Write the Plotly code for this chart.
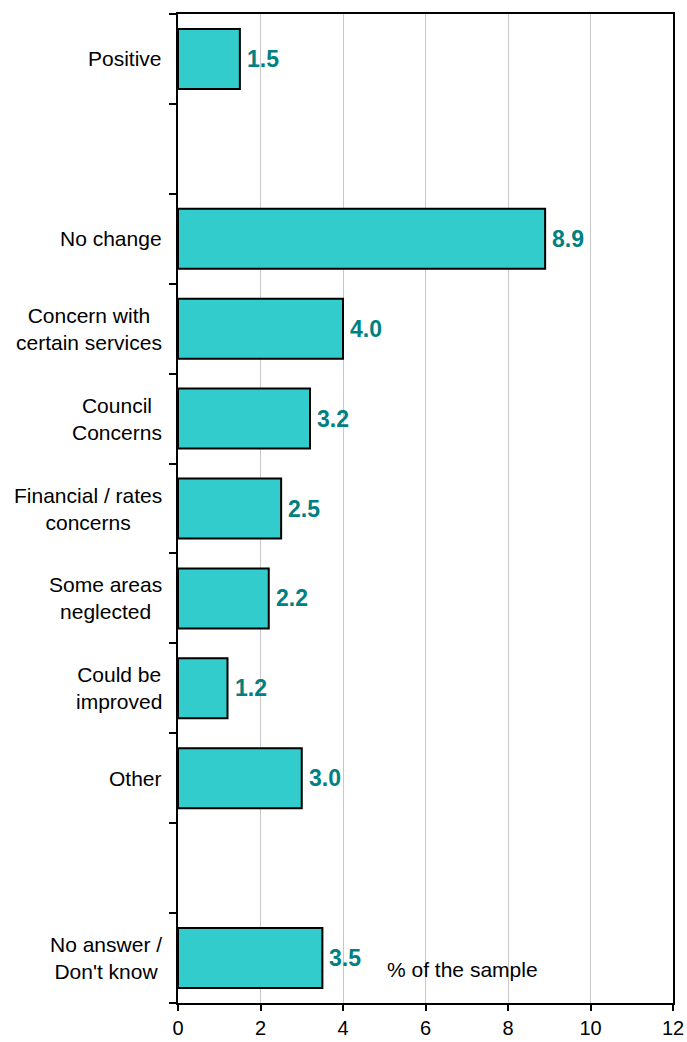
import plotly.graph_objects as go

# slot layout (None = empty spacer slot)
categories = ["Positive", None, "No change", "Concern with<br>certain services",
              "Council<br>Concerns", "Financial / rates<br>concerns",
              "Some areas<br>neglected", "Could be<br>improved", "Other", None,
              "No answer /<br>Don't know"]
values = [1.5, None, 8.9, 4.0, 3.2, 2.5, 2.2, 1.2, 3.0, None, 3.5]
x_ticks = [0, 2, 4, 6, 8, 10, 12]

pos = [i for i, c in enumerate(categories) if c is not None]
labs = [categories[i] for i in pos]
vals = [values[i] for i in pos]

FONT = "Liberation Sans, Arial, sans-serif"

fig = go.Figure()
fig.add_trace(go.Bar(
    x=vals, y=pos, orientation="h", width=0.667,
    marker=dict(color="#33CCCC", line=dict(color="black", width=2)),
    showlegend=False, hoverinfo="skip",
))

annotations = []
for p, v in zip(pos, vals):
    annotations.append(dict(x=v, y=p, xref="x", yref="y", text=f"{v:.1f}",
                            xanchor="left", yanchor="middle", xshift=5, showarrow=False,
                            font=dict(family=FONT, size=23, color="#008080", weight="bold")))
for p, l in zip(pos, labs):
    annotations.append(dict(x=0, y=p, xref="paper", yref="y", text=l,
                            xanchor="right", yanchor="middle", xshift=-14, showarrow=False,
                            align="center",
                            font=dict(family=FONT, size=21, color="black")))
annotations.append(dict(x=6.9, y=10.13, xref="x", yref="y", text="% of the sample",
                        xanchor="center", yanchor="middle", showarrow=False,
                        font=dict(family=FONT, size=21, color="black")))

n = len(categories)
fig.update_layout(
    width=687, height=1042,
    margin=dict(l=178, r=14, t=14, b=39),
    paper_bgcolor="white", plot_bgcolor="white",
    annotations=annotations,
    xaxis=dict(range=[0, 12], tickvals=x_ticks, ticks="outside", ticklen=6,
               tickwidth=2, tickcolor="black", automargin=False,
               showline=True, linecolor="black", linewidth=2, mirror=True,
               showgrid=True, gridcolor="#C8C8C8", gridwidth=1, zeroline=False,
               tickfont=dict(family=FONT, size=20, color="black")),
    yaxis=dict(range=[n - 0.5, -0.5], tickvals=[i - 0.5 for i in range(n + 1)],
               ticktext=[""] * (n + 1), ticks="outside", ticklen=7, tickwidth=2,
               tickcolor="black", showline=True, linecolor="black", linewidth=2,
               mirror=True, showgrid=False, zeroline=False, automargin=False),
)
fig.write_html("out.html", config={"displayModeBar": False},
               post_script="document.body.style.margin='0';document.body.style.overflow='hidden';")
